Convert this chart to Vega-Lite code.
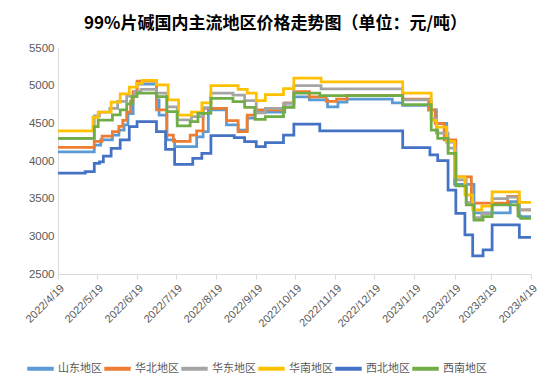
{
  "$schema": "https://vega.github.io/schema/vega-lite/v6.json",
  "width": 473,
  "height": 226,
  "autosize": {"type": "none"},
  "padding": {"left": 58, "top": 48, "right": 26, "bottom": 113},
  "background": "white",
  "title": {"text": "99%片碱国内主流地区价格走势图（单位：元/吨）", "font": "Noto Sans CJK SC", "fontSize": 17, "fontWeight": "bold", "color": "#000000", "offset": 9, "anchor": "start", "frame": "group", "dx": 26},
  "config": {"view": {"stroke": null}},
  "data": {"values": [
    {"d":"2022-04-19","r":"山东地区","v":4120},{"d":"2022-05-17","r":"山东地区","v":4210},{"d":"2022-05-22","r":"山东地区","v":4280},{"d":"2022-05-31","r":"山东地区","v":4345},{"d":"2022-06-05","r":"山东地区","v":4410},{"d":"2022-06-09","r":"山东地区","v":4480},{"d":"2022-06-12","r":"山东地区","v":4630},{"d":"2022-06-16","r":"山东地区","v":4900},{"d":"2022-06-19","r":"山东地区","v":5020},{"d":"2022-07-04","r":"山东地区","v":4810},{"d":"2022-07-06","r":"山东地区","v":4610},{"d":"2022-07-12","r":"山东地区","v":4280},{"d":"2022-07-18","r":"山东地区","v":4190},{"d":"2022-08-04","r":"山东地区","v":4320},{"d":"2022-08-09","r":"山东地区","v":4390},{"d":"2022-08-13","r":"山东地区","v":4680},{"d":"2022-08-27","r":"山东地区","v":4480},{"d":"2022-09-05","r":"山东地区","v":4410},{"d":"2022-09-12","r":"山东地区","v":4570},{"d":"2022-09-18","r":"山东地区","v":4650},{"d":"2022-10-11","r":"山东地区","v":4720},{"d":"2022-10-18","r":"山东地区","v":4850},{"d":"2022-10-30","r":"山东地区","v":4810},{"d":"2022-11-13","r":"山东地区","v":4720},{"d":"2022-11-21","r":"山东地区","v":4780},{"d":"2022-11-28","r":"山东地区","v":4820},{"d":"2023-01-02","r":"山东地区","v":4770},{"d":"2023-01-10","r":"山东地区","v":4740},{"d":"2023-01-30","r":"山东地区","v":4680},{"d":"2023-02-05","r":"山东地区","v":4500},{"d":"2023-02-13","r":"山东地区","v":4250},{"d":"2023-02-19","r":"山东地区","v":3690},{"d":"2023-03-06","r":"山东地区","v":3310},{"d":"2023-04-03","r":"山东地区","v":3460},{"d":"2023-04-10","r":"山东地区","v":3260},{"d":"2023-04-19","r":"山东地区","v":3260},
    {"d":"2022-04-19","r":"华北地区","v":4180},{"d":"2022-05-17","r":"华北地区","v":4260},{"d":"2022-05-23","r":"华北地区","v":4330},{"d":"2022-05-31","r":"华北地区","v":4390},{"d":"2022-06-05","r":"华北地区","v":4460},{"d":"2022-06-08","r":"华北地区","v":4540},{"d":"2022-06-11","r":"华北地区","v":4650},{"d":"2022-06-14","r":"华北地区","v":4790},{"d":"2022-06-16","r":"华北地区","v":4920},{"d":"2022-06-19","r":"华北地区","v":5060},{"d":"2022-07-04","r":"华北地区","v":4680},{"d":"2022-07-12","r":"华北地区","v":4345},{"d":"2022-07-17","r":"华北地区","v":4260},{"d":"2022-07-30","r":"华北地区","v":4345},{"d":"2022-08-04","r":"华北地区","v":4400},{"d":"2022-08-09","r":"华北地区","v":4700},{"d":"2022-08-27","r":"华北地区","v":4535},{"d":"2022-09-05","r":"华北地区","v":4390},{"d":"2022-09-12","r":"华北地区","v":4610},{"d":"2022-09-18","r":"华北地区","v":4680},{"d":"2022-10-11","r":"华北地区","v":4770},{"d":"2022-10-18","r":"华北地区","v":4920},{"d":"2022-10-30","r":"华北地区","v":4850},{"d":"2022-11-12","r":"华北地区","v":4790},{"d":"2022-11-20","r":"华北地区","v":4820},{"d":"2022-11-28","r":"华北地区","v":4870},{"d":"2023-01-10","r":"华北地区","v":4820},{"d":"2023-01-30","r":"华北地区","v":4680},{"d":"2023-02-04","r":"华北地区","v":4500},{"d":"2023-02-11","r":"华北地区","v":4280},{"d":"2023-02-20","r":"华北地区","v":3790},{"d":"2023-03-04","r":"华北地区","v":3440},{"d":"2023-04-01","r":"华北地区","v":3530},{"d":"2023-04-09","r":"华北地区","v":3350},{"d":"2023-04-19","r":"华北地区","v":3350},
    {"d":"2022-04-19","r":"华东地区","v":4300},{"d":"2022-05-17","r":"华东地区","v":4600},{"d":"2022-05-21","r":"华东地区","v":4650},{"d":"2022-05-29","r":"华东地区","v":4700},{"d":"2022-06-04","r":"华东地区","v":4790},{"d":"2022-06-11","r":"华东地区","v":4860},{"d":"2022-06-17","r":"华东地区","v":4920},{"d":"2022-06-22","r":"华东地区","v":4950},{"d":"2022-07-04","r":"华东地区","v":4900},{"d":"2022-07-12","r":"华东地区","v":4720},{"d":"2022-07-20","r":"华东地区","v":4545},{"d":"2022-07-31","r":"华东地区","v":4590},{"d":"2022-08-09","r":"华东地区","v":4710},{"d":"2022-08-15","r":"华东地区","v":4900},{"d":"2022-09-01","r":"华东地区","v":4876},{"d":"2022-09-10","r":"华东地区","v":4800},{"d":"2022-09-19","r":"华东地区","v":4640},{"d":"2022-09-26","r":"华东地区","v":4700},{"d":"2022-10-10","r":"华东地区","v":4766},{"d":"2022-10-18","r":"华东地区","v":5000},{"d":"2022-11-08","r":"华东地区","v":4956},{"d":"2023-01-10","r":"华东地区","v":4810},{"d":"2023-02-01","r":"华东地区","v":4560},{"d":"2023-02-05","r":"华东地区","v":4370},{"d":"2023-02-14","r":"华东地区","v":4170},{"d":"2023-02-20","r":"华东地区","v":3750},{"d":"2023-02-28","r":"华东地区","v":3450},{"d":"2023-03-06","r":"华东地区","v":3250},{"d":"2023-03-12","r":"华东地区","v":3300},{"d":"2023-03-20","r":"华东地区","v":3500},{"d":"2023-04-01","r":"华东地区","v":3520},{"d":"2023-04-10","r":"华东地区","v":3350},{"d":"2023-04-19","r":"华东地区","v":3350},
    {"d":"2022-04-19","r":"华南地区","v":4400},{"d":"2022-05-16","r":"华南地区","v":4580},{"d":"2022-05-20","r":"华南地区","v":4650},{"d":"2022-05-30","r":"华南地区","v":4780},{"d":"2022-06-06","r":"华南地区","v":4890},{"d":"2022-06-13","r":"华南地区","v":4980},{"d":"2022-06-19","r":"华南地区","v":5030},{"d":"2022-06-23","r":"华南地区","v":5070},{"d":"2022-07-04","r":"华南地区","v":5010},{"d":"2022-07-13","r":"华南地区","v":4810},{"d":"2022-07-21","r":"华南地区","v":4610},{"d":"2022-07-31","r":"华南地区","v":4650},{"d":"2022-08-08","r":"华南地区","v":4770},{"d":"2022-08-15","r":"华南地区","v":5000},{"d":"2022-09-05","r":"华南地区","v":4950},{"d":"2022-09-12","r":"华南地区","v":4900},{"d":"2022-09-19","r":"华南地区","v":4800},{"d":"2022-09-26","r":"华南地区","v":4880},{"d":"2022-10-10","r":"华南地区","v":4960},{"d":"2022-10-18","r":"华南地区","v":5100},{"d":"2022-11-08","r":"华南地区","v":5050},{"d":"2023-01-10","r":"华南地区","v":4900},{"d":"2023-02-01","r":"华南地区","v":4540},{"d":"2023-02-05","r":"华南地区","v":4450},{"d":"2023-02-13","r":"华南地区","v":4260},{"d":"2023-02-19","r":"华南地区","v":3790},{"d":"2023-02-27","r":"华南地区","v":3550},{"d":"2023-03-05","r":"华南地区","v":3350},{"d":"2023-03-12","r":"华南地区","v":3400},{"d":"2023-03-20","r":"华南地区","v":3590},{"d":"2023-04-10","r":"华南地区","v":3450},{"d":"2023-04-19","r":"华南地区","v":3450},
    {"d":"2022-04-19","r":"西北地区","v":3840},{"d":"2022-05-10","r":"西北地区","v":3860},{"d":"2022-05-17","r":"西北地区","v":3970},{"d":"2022-05-21","r":"西北地区","v":3990},{"d":"2022-05-24","r":"西北地区","v":4066},{"d":"2022-05-30","r":"西北地区","v":4169},{"d":"2022-06-06","r":"西北地区","v":4279},{"d":"2022-06-13","r":"西北地区","v":4455},{"d":"2022-06-19","r":"西北地区","v":4522},{"d":"2022-07-04","r":"西北地区","v":4389},{"d":"2022-07-11","r":"西北地区","v":4155},{"d":"2022-07-18","r":"西北地区","v":3956},{"d":"2022-08-01","r":"西北地区","v":4036},{"d":"2022-08-08","r":"西北地区","v":4102},{"d":"2022-08-15","r":"西北地区","v":4336},{"d":"2022-09-02","r":"西北地区","v":4310},{"d":"2022-09-10","r":"西北地区","v":4256},{"d":"2022-09-19","r":"西北地区","v":4190},{"d":"2022-09-26","r":"西北地区","v":4243},{"d":"2022-10-10","r":"西北地区","v":4345},{"d":"2022-10-18","r":"西北地区","v":4490},{"d":"2022-11-07","r":"西北地区","v":4400},{"d":"2023-01-10","r":"西北地区","v":4176},{"d":"2023-01-31","r":"西北地区","v":4080},{"d":"2023-02-06","r":"西北地区","v":4004},{"d":"2023-02-14","r":"西北地区","v":3615},{"d":"2023-02-20","r":"西北地区","v":3306},{"d":"2023-02-27","r":"西北地区","v":3018},{"d":"2023-03-05","r":"西北地区","v":2739},{"d":"2023-03-13","r":"西北地区","v":2819},{"d":"2023-03-20","r":"西北地区","v":3151},{"d":"2023-04-10","r":"西北地区","v":2987},{"d":"2023-04-19","r":"西北地区","v":2987},
    {"d":"2022-04-19","r":"西南地区","v":4300},{"d":"2022-05-17","r":"西南地区","v":4455},{"d":"2022-05-20","r":"西南地区","v":4544},{"d":"2022-05-31","r":"西南地区","v":4611},{"d":"2022-06-06","r":"西南地区","v":4677},{"d":"2022-06-11","r":"西南地区","v":4757},{"d":"2022-06-15","r":"西南地区","v":4854},{"d":"2022-06-19","r":"西南地区","v":4900},{"d":"2022-07-04","r":"西南地区","v":4854},{"d":"2022-07-12","r":"西南地区","v":4654},{"d":"2022-07-20","r":"西南地区","v":4465},{"d":"2022-07-30","r":"西南地区","v":4522},{"d":"2022-08-05","r":"西南地区","v":4633},{"d":"2022-08-15","r":"西南地区","v":4832},{"d":"2022-09-01","r":"西南地区","v":4787},{"d":"2022-09-10","r":"西南地区","v":4713},{"d":"2022-09-18","r":"西南地区","v":4553},{"d":"2022-09-26","r":"西南地区","v":4588},{"d":"2022-10-10","r":"西南地区","v":4713},{"d":"2022-10-18","r":"西南地区","v":4900},{"d":"2022-11-07","r":"西南地区","v":4867},{"d":"2023-01-10","r":"西南地区","v":4750},{"d":"2023-02-01","r":"西南地区","v":4410},{"d":"2023-02-06","r":"西南地区","v":4300},{"d":"2023-02-14","r":"西南地区","v":4100},{"d":"2023-02-20","r":"西南地区","v":3670},{"d":"2023-02-28","r":"西南地区","v":3416},{"d":"2023-03-06","r":"西南地区","v":3215},{"d":"2023-03-13","r":"西南地区","v":3260},{"d":"2023-03-20","r":"西南地区","v":3416},{"d":"2023-04-09","r":"西南地区","v":3270},{"d":"2023-04-11","r":"西南地区","v":3240},{"d":"2023-04-19","r":"西南地区","v":3240}
  ]},
  "mark": {"type": "line", "interpolate": "step-after", "strokeWidth": 2.75},
  "encoding": {
    "x": {
      "field": "d", "type": "temporal",
      "scale": {"type": "utc", "domain": [{"year": 2022, "month": 4, "date": 19, "utc": true}, {"year": 2023, "month": 4, "date": 19, "utc": true}]},
      "axis": {
        "title": null, "grid": false,
        "values": [
          {"year": 2022, "month": 4, "date": 19, "utc": true},
          {"year": 2022, "month": 5, "date": 19, "utc": true},
          {"year": 2022, "month": 6, "date": 19, "utc": true},
          {"year": 2022, "month": 7, "date": 19, "utc": true},
          {"year": 2022, "month": 8, "date": 19, "utc": true},
          {"year": 2022, "month": 9, "date": 19, "utc": true},
          {"year": 2022, "month": 10, "date": 19, "utc": true},
          {"year": 2022, "month": 11, "date": 19, "utc": true},
          {"year": 2022, "month": 12, "date": 19, "utc": true},
          {"year": 2023, "month": 1, "date": 19, "utc": true},
          {"year": 2023, "month": 2, "date": 19, "utc": true},
          {"year": 2023, "month": 3, "date": 19, "utc": true},
          {"year": 2023, "month": 4, "date": 19, "utc": true}
        ],
        "labelExpr": "utcFormat(datum.value, '%Y/%-m/%-d')",
        "labelAngle": -45, "labelFont": "Liberation Sans", "labelFontSize": 11, "labelColor": "#595959",
        "domainColor": "#D9D9D9", "tickColor": "#D9D9D9", "tickSize": 5, "labelPadding": 3, "labelOverlap": false, "labelFlush": false
      }
    },
    "y": {
      "field": "v", "type": "quantitative",
      "scale": {"domain": [2500, 5500], "nice": false, "zero": false},
      "axis": {
        "title": null, "grid": false, "ticks": false, "format": "d",
        "values": [2500, 3000, 3500, 4000, 4500, 5000, 5500],
        "labelFont": "Liberation Sans", "labelFontSize": 11.5, "labelColor": "#595959", "labelPadding": 4,
        "domainColor": "#D9D9D9"
      }
    },
    "color": {
      "field": "r", "type": "nominal",
      "scale": {"domain": ["山东地区", "华北地区", "华东地区", "华南地区", "西北地区", "西南地区"], "range": ["#5B9BD5", "#ED7D31", "#A5A5A5", "#FFC000", "#4472C4", "#70AD47"]},
      "legend": {
        "title": null, "orient": "none", "legendX": -33, "legendY": 305, "direction": "horizontal",
        "symbolType": "stroke", "symbolStrokeWidth": 4, "symbolSize": 700,
        "labelFont": "Noto Sans CJK SC", "labelFontSize": 11, "labelColor": "#595959", "labelOffset": 2, "columnPadding": -6
      }
    }
  }
}
